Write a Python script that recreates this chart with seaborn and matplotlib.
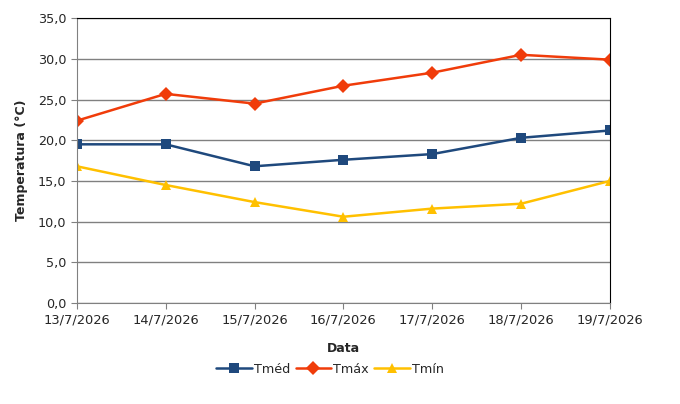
import pandas as pd
import matplotlib.pyplot as plt
import matplotlib.ticker as mticker
import seaborn as sns

# --- data ---
datas = ['13/7/2026', '14/7/2026', '15/7/2026', '16/7/2026',
         '17/7/2026', '18/7/2026', '19/7/2026']
tmed = [19.5, 19.5, 16.8, 17.6, 18.3, 20.3, 21.2]
tmax = [22.4, 25.7, 24.5, 26.7, 28.3, 30.5, 29.9]
tmin = [16.8, 14.5, 12.4, 10.6, 11.6, 12.2, 15.0]

series = ['Tméd', 'Tmáx', 'Tmín']
cores = {'Tméd': '#1F497D', 'Tmáx': '#F03C0A', 'Tmín': '#FFC000'}
marcas = {'Tméd': 's', 'Tmáx': 'D', 'Tmín': '^'}

df = pd.DataFrame({'Data': datas, 'Tméd': tmed, 'Tmáx': tmax, 'Tmín': tmin})
df_long = df.melt(id_vars='Data', var_name='Serie', value_name='Temp')
df_long['pos'] = df_long['Data'].map({d: i for i, d in enumerate(datas)})

sns.set_style('white')
plt.rcParams['font.family'] = ['DejaVu Sans']

fig, ax = plt.subplots(figsize=(6.8, 4.04), dpi=100)
fig.subplots_adjust(left=0.113, right=0.897, top=0.955, bottom=0.25)

sns.lineplot(data=df_long, x='pos', y='Temp', hue='Serie', style='Serie',
             hue_order=series, style_order=series, palette=cores,
             markers=marcas, dashes=False, markersize=7, linewidth=1.8,
             markeredgewidth=0, ax=ax)

ax.set_xlim(0, 6)
ax.set_ylim(0, 35)
ax.set_xticks(range(len(datas)))
ax.set_xticklabels(datas, fontsize=9.4)
ax.yaxis.set_major_locator(mticker.MultipleLocator(5))
ax.yaxis.set_major_formatter(mticker.FuncFormatter(lambda v, p: f'{v:.1f}'.replace('.', ',')))
ax.tick_params(axis='y', labelsize=9.2, length=4, color='#808080', direction='out', left=True)
ax.tick_params(axis='x', length=4, color='#808080', direction='out', bottom=True)
ax.grid(axis='y', color='#808080', linewidth=1)
ax.set_axisbelow(True)

for lado in ['left', 'bottom']:
    ax.spines[lado].set_color('#808080')
for lado in ['top', 'right']:
    ax.spines[lado].set_color('black')

ax.set_xlabel('Data', fontsize=9, fontweight='bold', labelpad=11)
ax.set_ylabel('Temperatura (°C)', fontsize=9, fontweight='bold', labelpad=7)

h, l = ax.get_legend_handles_labels()
ax.legend(h, l, loc='upper center', bbox_to_anchor=(0.475, -0.17), ncol=3,
          frameon=False, fontsize=9.2, handlelength=2.8, columnspacing=0.4,
          handletextpad=0.15)

plt.savefig('out.png', dpi=100)
